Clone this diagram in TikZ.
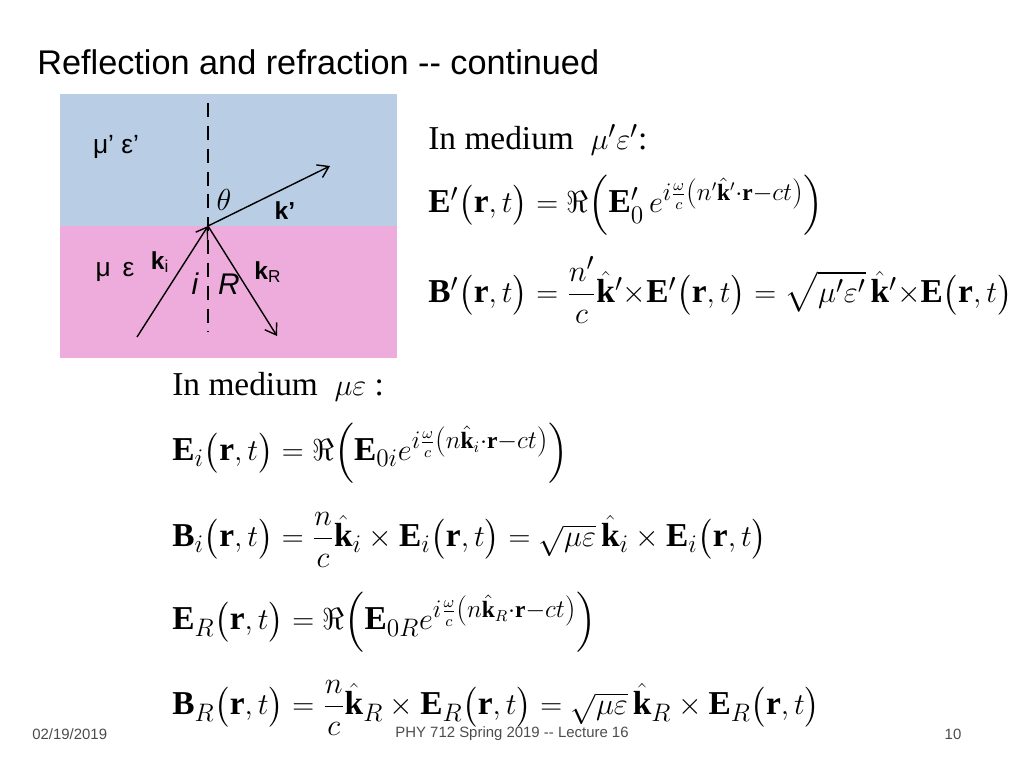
\documentclass[tikz,border=0pt]{standalone}
\usepackage{amssymb}
\usepackage{amsmath}
\usepackage{fontspec}
\setmainfont{Liberation Serif}
\setsansfont{Liberation Sans}
\usetikzlibrary{arrows.meta}
\tikzset{
  ray/.style={thick, -{Straight Barb[length=6pt,width=8pt]}},
  eqn/.style={anchor=west, inner sep=0pt, font=\fontsize{19}{22}\selectfont},
  lbl/.style={inner sep=0pt, font=\sffamily\fontsize{14}{16}\selectfont},
  foot/.style={inner sep=0pt, font=\sffamily\fontsize{8.5}{10}\selectfont, text=black!70}
}
\begin{document}
\begin{tikzpicture}[x=0.02cm, y=-0.02cm]
  \useasboundingbox (0,0) rectangle (1024,768);
  \fill[fill={rgb,255:red,185;green,205;blue,228}] (60,94) rectangle (397,226);
  \fill[fill={rgb,255:red,238;green,172;blue,220}] (60,226) rectangle (397,358);
  \node[anchor=west, inner sep=0pt, font=\sffamily\fontsize{19.5}{22}\selectfont] (title) at (37,62) {Reflection and refraction {-}{-} continued};

  \coordinate (o) at (208,226);
  \coordinate (ntop) at (208,103);
  \coordinate (nbot) at (208,332);
  \coordinate (kt) at (330,166);
  \coordinate (ki) at (137,337);
  \coordinate (kr) at (277,336);
  \draw[thick, dash pattern=on 8pt off 5pt] (ntop) -- (nbot);
  \draw[ray] (o) -- (kt);
  \draw[ray] (ki) -- (o);
  \draw[ray] (o) -- (kr);

  \node[lbl, font=\sffamily\fontsize{15}{17}\selectfont] (mup) at (116,147) {μ’ ε’};
  \node[lbl, font=\sffamily\fontsize{15}{17}\selectfont] (mu) at (115,272) {μ \,ε};
  \node[inner sep=0pt, font=\fontsize{17}{20}\selectfont] (th) at (224,200) {$\theta$};
  \node[lbl] (kp) at (285,211) {\textbf{k’}};
  \node[lbl] (kin) at (160,262) {\textbf{k}\textsubscript{i}};
  \node[lbl, font=\sffamily\itshape\fontsize{17}{20}\selectfont] (ilab) at (195,284) {i};
  \node[lbl, font=\sffamily\itshape\fontsize{17}{20}\selectfont] (rlab) at (229,284) {R};
  \node[lbl] (krn) at (268,272) {\textbf{k}\textsubscript{R}};

  \node[eqn] (m1) at (428,140) {In medium \ $\mu'\varepsilon'$:};
  \node[eqn] (e1) at (428,205) {$\mathbf{E}'\big(\mathbf{r},t\big)=\Re\Big(\mathbf{E}'_0\,e^{i\frac{\omega}{c}\left(n'\hat{\mathbf{k}}'\cdot\mathbf{r}-ct\right)}\Big)$};
  \node[eqn] (b1) at (428,290) {$\mathbf{B}'\big(\mathbf{r},t\big)=\dfrac{n'}{c}\hat{\mathbf{k}}'{\times}\mathbf{E}'\big(\mathbf{r},t\big)=\sqrt{\mu'\varepsilon'}\,\hat{\mathbf{k}}'{\times}\mathbf{E}\big(\mathbf{r},t\big)$};

  \node[eqn] (m2) at (172,387) {In medium \ $\mu\varepsilon$ :};
  \node[eqn] (e2) at (172,453) {$\mathbf{E}_i\big(\mathbf{r},t\big)=\Re\Big(\mathbf{E}_{0i}e^{i\frac{\omega}{c}\left(n\hat{\mathbf{k}}_i\cdot\mathbf{r}-ct\right)}\Big)$};
  \node[eqn] (b2) at (172,540) {$\mathbf{B}_i\big(\mathbf{r},t\big)=\dfrac{n}{c}\hat{\mathbf{k}}_i\times\mathbf{E}_i\big(\mathbf{r},t\big)=\sqrt{\mu\varepsilon}\,\hat{\mathbf{k}}_i\times\mathbf{E}_i\big(\mathbf{r},t\big)$};
  \node[eqn] (e3) at (172,622) {$\mathbf{E}_R\big(\mathbf{r},t\big)=\Re\Big(\mathbf{E}_{0R}e^{i\frac{\omega}{c}\left(n\hat{\mathbf{k}}_R\cdot\mathbf{r}-ct\right)}\Big)$};
  \node[eqn] (b3) at (172,708) {$\mathbf{B}_R\big(\mathbf{r},t\big)=\dfrac{n}{c}\hat{\mathbf{k}}_R\times\mathbf{E}_R\big(\mathbf{r},t\big)=\sqrt{\mu\varepsilon}\,\hat{\mathbf{k}}_R\times\mathbf{E}_R\big(\mathbf{r},t\big)$};

  \node[foot, anchor=west] (date) at (32,734) {02/19/2019};
  \node[foot] (course) at (512,734) {PHY 712 Spring 2019 {-}{-} Lecture 16};
  \node[foot] (page) at (953,734) {10};
\end{tikzpicture}
\end{document}
